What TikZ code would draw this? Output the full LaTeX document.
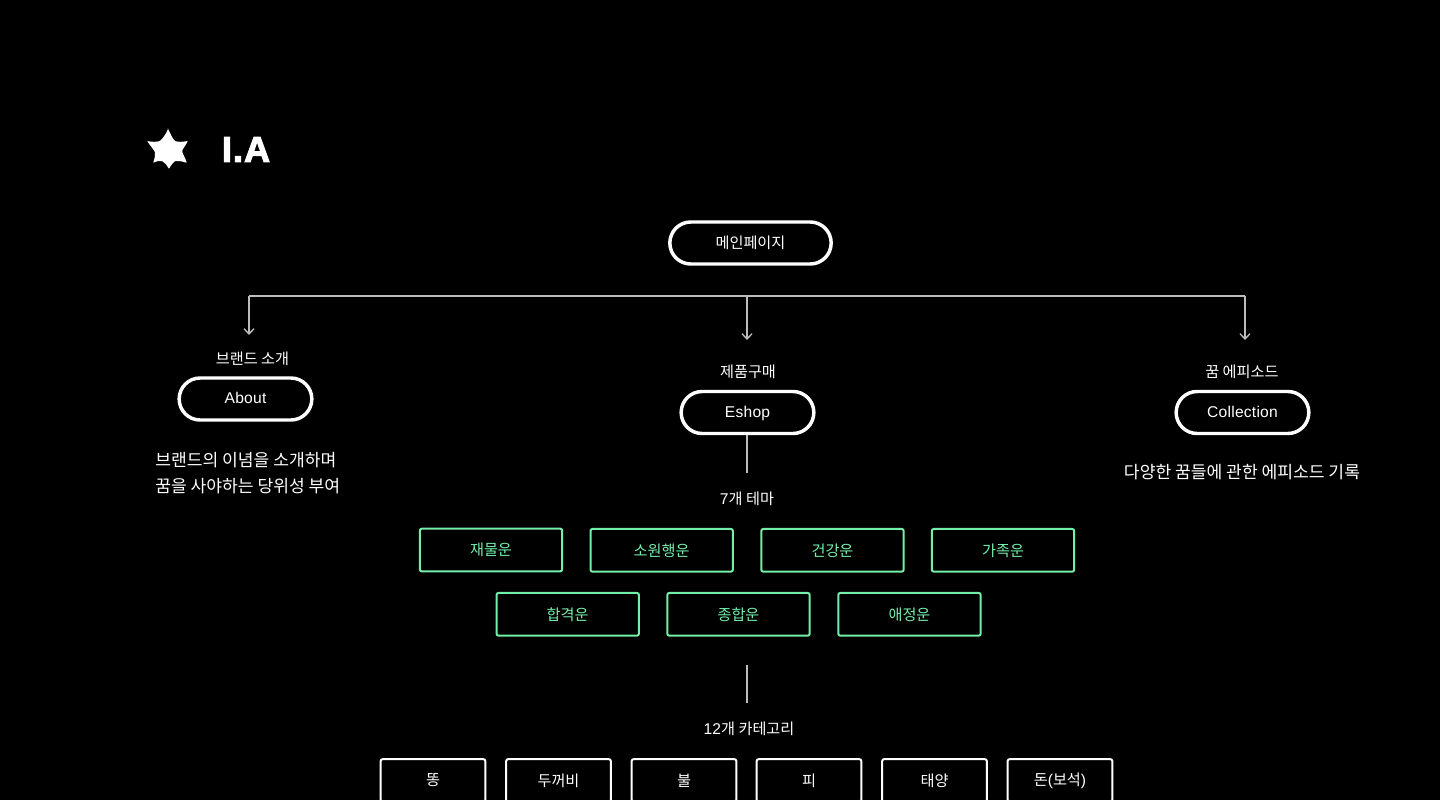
\documentclass[tikz,border=0pt]{standalone}
\usepackage{fontspec}
\usetikzlibrary{arrows.meta}
\setmainfont{Noto Sans CJK KR}
\newfontfamily\lat[LetterSpace=1.5]{Liberation Sans}
\newfontfamily\latbold[FakeBold=3,LetterSpace=3]{Liberation Sans Bold}
\definecolor{mint}{HTML}{74EFAA}
\definecolor{wire}{HTML}{BDBDBD}
\newcommand{\eng}[1]{{\lat\fontsize{11.7pt}{14pt}\selectfont #1}}
\tikzset{
  x=0.75pt,y=-0.75pt,
  bodyfont/.style={font=\fontsize{11.4pt}{14pt}\selectfont},
  pill/.style={draw=white,line width=2.6pt,rounded corners=15.7pt,inner sep=0pt,bodyfont,text=white,anchor=center,text height=9pt,text depth=2pt},
  caption/.style={text=white,bodyfont,inner sep=0pt,anchor=center},
  desc/.style={text=white,font=\fontsize{12.85pt}{19.5pt}\selectfont,inner sep=0pt,align=left},
  mintbox/.style={draw=mint,line width=1.5pt,rounded corners=1.5pt,minimum width=106.8pt,minimum height=32pt,inner sep=0pt,text=mint,bodyfont,anchor=center},
  whitebox/.style={draw=white,line width=1.5pt,rounded corners=1.5pt,minimum width=78.5pt,minimum height=32pt,inner sep=0pt,text=white,bodyfont,anchor=center},
  wireline/.style={draw=wire,line width=1pt},
  arrowline/.style={wireline,-{Straight Barb[length=4pt,width=7.5pt,line width=1pt]}}
}
\begin{document}
\begin{tikzpicture}
\useasboundingbox (0,0) rectangle (1440,800);
\fill[black] (0,0) rectangle (1440,800);
\clip (0,0) rectangle (1440,800);
% logo
\fill[white,rounded corners=0.6pt] (168,129) .. controls (171,135) and (173,139) .. (175,141)
 .. controls (178,142) and (182,142) .. (188,141) .. controls (185,146) and (183,149) .. (182,151)
 .. controls (183,154) and (185,158) .. (187,163) .. controls (182,161) and (178,161) .. (175,161)
 .. controls (173,163) and (171,165) .. (169,169) .. controls (167,165) and (165,163) .. (162,161)
 .. controls (159,161) and (156,161) .. (153,163) .. controls (155,158) and (155,155) .. (155,152)
 .. controls (153,149) and (150,145) .. (147,141) .. controls (152,142) and (156,142) .. (160,141)
 .. controls (163,138) and (166,134) .. (168,129) -- cycle;
\node[inner sep=0pt,text=white] (title) at (246,149.5) {\latbold\fontsize{27pt}{30pt}\selectfont I.A};
% top
\node[pill,minimum width=121pt,minimum height=31.5pt] (main) at (750.5,243) {\raisebox{-0.7pt}{메인페이지}};
% bus
\coordinate (busL) at (249,296);
\coordinate (busM) at (747,296);
\coordinate (busR) at (1245,296);
\coordinate (endL) at (249,335);
\coordinate (endM) at (747,340);
\coordinate (endR) at (1245,340);
\draw[wireline] (busL) -- (busR);
\draw[arrowline] (busL) -- (endL);
\draw[arrowline] (busM) -- (endM);
\draw[arrowline] (busR) -- (endR);
% three columns
\node[caption] (capA) at (252.5,358.5) {브랜드 소개};
\node[pill,minimum width=99.5pt,minimum height=31.5pt] (about) at (245.5,399) {\eng{About}};
\node[desc,anchor=north west] (descA) at (155,452.5) {브랜드의 이념을 소개하며\\꿈을 사야하는 당위성 부여};
\node[caption] (capE) at (748,372) {제품구매};
\node[pill,minimum width=99.5pt,minimum height=31.5pt] (eshop) at (747.5,412.5) {\eng{Eshop}};
\node[caption] (capC) at (1242,372) {꿈 에피소드};
\node[pill,minimum width=99.5pt,minimum height=31.5pt] (coll) at (1242.5,412.5) {\eng{Collection}};
\node[desc,anchor=center] (descC) at (1242,472) {다양한 꿈들에 관한 에피소드 기록};
% theme
\coordinate (e1) at (747,473);
\coordinate (e0) at (eshop.south -| e1);
\draw[wireline] (e0) -- (e1);
\node[caption] (cap7) at (747,498.5) {\eng{7}개 테마};
\node[mintbox] (t1) at (491,550) {재물운};
\node[mintbox] (t2) at (661.7,550.3) {소원행운};
\node[mintbox] (t3) at (832.5,550.3) {건강운};
\node[mintbox] (t4) at (1003,550.3) {가족운};
\node[mintbox] (t5) at (567.7,614.3) {합격운};
\node[mintbox] (t6) at (738.5,614.3) {종합운};
\node[mintbox] (t7) at (909.5,614.3) {애정운};
\coordinate (c0) at (747,665);
\coordinate (c1) at (747,703);
\draw[wireline] (c0) -- (c1);
\node[caption] (cap12) at (749,729) {\eng{12}개 카테고리};
\node[whitebox] (b1) at (433,780.5) {똥};
\node[whitebox] (b2) at (558.5,780.5) {두꺼비};
\node[whitebox] (b3) at (684,780.5) {불};
\node[whitebox] (b4) at (809,780.5) {피};
\node[whitebox] (b5) at (934.5,780.5) {태양};
\node[whitebox] (b6) at (1060,780.5) {돈\eng{(}보석\eng{)}};
\end{tikzpicture}
\end{document}
